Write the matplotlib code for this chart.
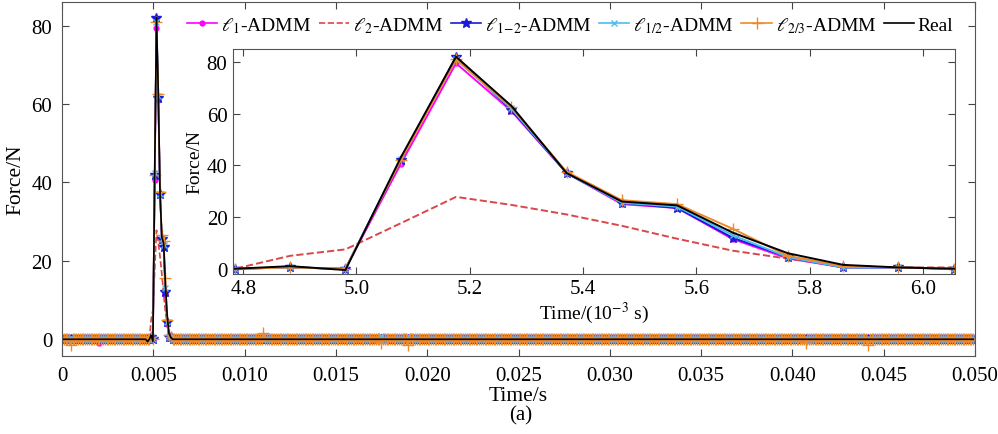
import matplotlib
matplotlib.use('Agg')
import matplotlib.pyplot as plt
import numpy as np
from matplotlib.ticker import FixedLocator, FixedFormatter

plt.rcParams['font.family'] = ['Liberation Serif', 'DejaVu Serif']
plt.rcParams['mathtext.fontset'] = 'stix'

# sampling: 512 samples at 10240 Hz
n_samples = 512
fs = 10240.0
spike_start = 49  # sample index of first inset point (4.785 ms)

# values around the impact (samples 49..62)
real_peak = [0, 1, -0.5, 43, 82, 63, 37, 26, 24.5, 14, 6, 1.5, 0.5, 0]
l1_peak = [0, 0.5, 0, 40.5, 79.5, 61, 37, 25, 23.5, 11.5, 4, 0.5, 0.5, 0]
l2_peak = [0, 5, 7.5, 17.6, 27.8, 24.7, 21, 16.6, 11.6, 7, 3.9, 1, 0.5, 0.5]
l12_peak = [0, 0.5, 0, 42, 82, 61.5, 37, 25.5, 23.5, 12, 4.5, 0.5, 0.5, 0]
lhalf_peak = [0, 0.5, 0, 42.5, 81, 62, 37, 25.5, 24, 13, 4.5, 0.5, 0.5, 0]
l23_peak = [0, 0.5, 0, 42, 81, 62.5, 37.5, 26.5, 25, 15.5, 5, 1, 0.5, 0]

# small off-baseline values elsewhere (sample index, force)
real_other = [(48, -0.6)]
l1_other = [(21, -1.0)]
l2_other = [(38, 0.5), (477, 0.5)]
l12_other = []
lhalf_other = [(179, 0.8), (194, 0.8)]
l23_other = [(5, -1.5), (113, 1.5), (179, -1.0), (194, -1.5), (417, -1.0), (452, -1.5)]

labels = [r'$\ell_1$-ADMM', r'$\ell_2$-ADMM', r'$\ell_{1\!-\!2}$-ADMM',
          r'$\ell_{1/2}$-ADMM', r'$\ell_{2/3}$-ADMM', 'Real']
colors = ['#FF00FF', '#D9474A', '#1A1AD8', '#4DBEEE', '#EE8A2E', 'black']
styles = ['-', '--', '-', '-', '-', '-']
markers = ['.', None, '*', 'x', '+', None]
msizes = [7, 0, 7, 5, 8, 0]


def build(peak, other):
    y = np.zeros(n_samples)
    y[spike_start:spike_start + len(peak)] = peak
    for i, v in other:
        y[i] = v
    return y


t = np.arange(n_samples) / fs
series = [build(l1_peak, l1_other), build(l2_peak, l2_other),
          build(l12_peak, l12_other), build(lhalf_peak, lhalf_other),
          build(l23_peak, l23_other), build(real_peak, real_other)]

fig = plt.figure(figsize=(9.98, 4.35), dpi=100)
ax = fig.add_axes([0.0621, 0.179, 0.9149, 0.814])

for y, lab, c, ls, m, ms in zip(series, labels, colors, styles, markers, msizes):
    ax.plot(t, y, color=c, ls=ls, lw=1.2, marker=m, ms=ms, label=lab)

ax.set_xlim(0, 0.05)
ax.set_ylim(-4.3, 86)
xt = np.arange(0, 0.0501, 0.005)
ax.xaxis.set_major_locator(FixedLocator(xt))
ax.xaxis.set_major_formatter(FixedFormatter(['0'] + ['%.3f' % v for v in xt[1:]]))
ax.set_yticks([0, 20, 40, 60, 80])
ax.tick_params(direction='in', top=True, right=True, labelsize=15, length=5,
               color='#444444', pad=7)
for s in ax.spines.values():
    s.set_color('#555555')
ax.set_xlabel('Time/s', fontsize=15.5, labelpad=1)
ax.set_ylabel('Force/N', fontsize=15.5, labelpad=4)
ax.legend(loc='center right', bbox_to_anchor=(0.987, 0.935), ncol=6, frameon=False,
          fontsize=14, handlelength=1.55, handletextpad=0.2, columnspacing=0.4,
          borderaxespad=0.1)

fig.text(0.5215, 0.045, '(a)', ha='center', va='center', fontsize=15)

# inset
ins = fig.add_axes([0.2335, 0.368, 0.7235, 0.517])
for y, lab, c, ls, m, ms in zip(series, labels, colors, styles, markers, msizes):
    ins.plot(t * 1000, y, color=c, ls=ls, lw=1.4, marker=m, ms=ms)
ins.set_xlim(4.782, 6.057)
ins.set_ylim(-2, 85)
ins.set_xticks([4.8, 5.0, 5.2, 5.4, 5.6, 5.8, 6.0])
ins.set_xticklabels(['4.8', '5.0', '5.2', '5.4', '5.6', '5.8', '6.0'])
ins.set_yticks([0, 20, 40, 60, 80])
ins.tick_params(direction='in', top=True, right=True, labelsize=15, length=5,
                color='#444444', pad=4)
for s in ins.spines.values():
    s.set_color('#555555')
ins.set_xlabel(r'Time/(10$^{-3}$ s)', fontsize=14, labelpad=1)
ins.set_ylabel('Force/N', fontsize=14, labelpad=2)

fig.savefig('out.png', dpi=100)
